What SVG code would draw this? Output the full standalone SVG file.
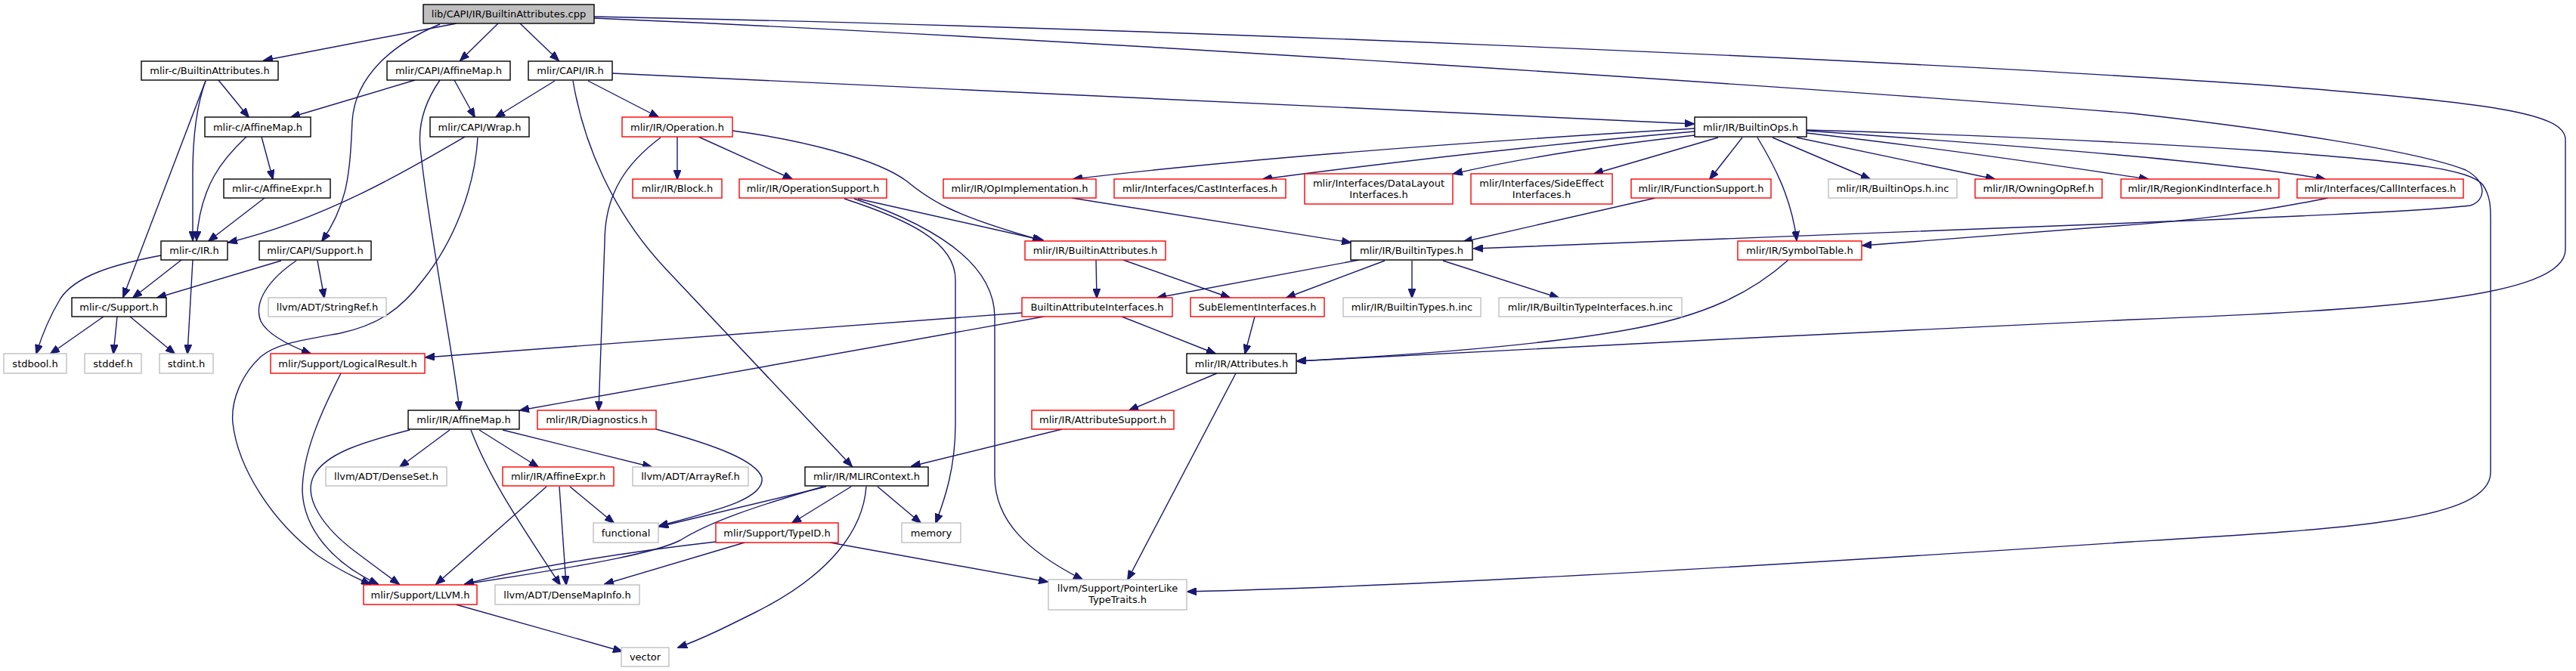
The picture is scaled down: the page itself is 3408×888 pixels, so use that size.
<svg xmlns="http://www.w3.org/2000/svg" width="3408" height="888" viewBox="0 0 3408 888">
<style>
.n rect{fill:#fff;stroke-width:1.4}
.k rect{stroke:#000}
.r rect{stroke:#ff0000}
.g rect{stroke:#bfbfbf}
.root rect{fill:#bfbfbf;stroke:#000}
text{font-family:"DejaVu Sans","Liberation Sans",sans-serif;font-size:13px;fill:#000;text-anchor:middle}
#edges path{fill:none;stroke:#191970;stroke-width:1.4;marker-end:url(#a)}
</style>
<defs>
<marker id="a" markerUnits="userSpaceOnUse" markerWidth="13" markerHeight="10" viewBox="0 0 13 10" refX="12" refY="5" orient="auto">
<path d="M0,0 L13,5 L0,10 z" fill="#191970" stroke="#191970" stroke-width="1"/>
</marker>
</defs>
<rect width="3408" height="888" fill="#fff"/>
<g id="edges">
<path d="M604,31 L349,80"/>
<path d="M582,32 C520,58 470,100 466,160 C463,230 460,270 426,319"/>
<path d="M659,31 L609,80"/>
<path d="M688,31 L739,80"/>
<path d="M786,22 C1500,36 2500,78 3000,113 C3300,136 3394,150 3394,185 L3394,330 C3394,395 3150,410 2820,423 C2500,438 2000,462 1716,478"/>
<path d="M786,24 C1400,50 2400,116 2820,150 C3000,170 3200,200 3262,225 C3290,240 3290,265 3268,272 C3200,280 3000,288 2820,295 L1950,329"/>
<path d="M2390,172 C2600,178 2820,188 3000,200 C3200,215 3270,225 3285,245 C3295,260 3295,275 3295,290 L3295,625 C3295,690 3100,700 2820,717 C2400,745 1900,775 1571,783"/>
<path d="M810,97 L2241,164"/>
<path d="M289,106 L329,155"/>
<path d="M272,107 C260,140 255,180 255,230 L255,318"/>
<path d="M272,107 L163,393"/>
<path d="M549,106 L385,155"/>
<path d="M601,106 L628,155"/>
<path d="M582,106 C562,135 553,165 556,195 C565,290 600,470 608,543"/>
<path d="M615,181 C540,225 430,290 302,321"/>
<path d="M632,182 C628,250 600,320 560,370 C530,410 500,430 450,441 C400,450 365,455 345,472 C320,495 305,530 308,560 C315,620 360,690 420,735 C445,752 468,764 490,773"/>
<path d="M392,345 C355,370 335,400 345,425 C355,445 390,460 411,468"/>
<path d="M451,494 C425,545 400,600 400,650 C402,700 440,745 500,773"/>
<path d="M542,569 C480,585 430,600 415,630 C400,660 430,700 470,730 C490,745 510,760 528,773"/>
<path d="M723,644 L577,773"/>
<path d="M758,107 C772,190 810,280 880,355 L1127,617"/>
<path d="M734,107 L656,155"/>
<path d="M778,107 L871,155"/>
<path d="M896,181 L896,237"/>
<path d="M924,181 L1048,237"/>
<path d="M874,182 C830,215 800,255 800,320 L792,543"/>
<path d="M969,173 C1060,185 1160,210 1200,240 C1230,265 1260,285 1378,318"/>
<path d="M1135,263 L1380,318"/>
<path d="M1117,263 C1200,290 1264,320 1264,370 L1264,560 C1264,620 1250,660 1238,692"/>
<path d="M1130,263 C1240,300 1316,350 1316,420 L1316,630 C1316,690 1360,730 1432,767"/>
<path d="M1405,568 L1206,617"/>
<path d="M1610,494 L1494,543"/>
<path d="M1635,494 L1492,767"/>
<path d="M1352,414 L563,473"/>
<path d="M1381,419 L688,543"/>
<path d="M1484,419 L1608,468"/>
<path d="M1660,419 L1647,468"/>
<path d="M1450,344 L1451,394"/>
<path d="M1486,344 L1627,394"/>
<path d="M1798,344 L1531,394"/>
<path d="M1832,345 L1702,394"/>
<path d="M1868,345 L1868,394"/>
<path d="M1909,345 L2062,394"/>
<path d="M2190,262 L1936,320"/>
<path d="M1418,262 L1787,321"/>
<path d="M2366,344 C2320,385 2260,418 2150,437 C2050,455 1900,468 1716,478"/>
<path d="M3080,262 C2980,282 2900,292 2800,299 L2464,325"/>
<path d="M2242,170 C1900,190 1600,215 1420,237"/>
<path d="M2242,174 C2000,195 1800,220 1671,237"/>
<path d="M2242,179 C2100,195 2000,212 1923,230"/>
<path d="M2273,182 L2109,230"/>
<path d="M2305,182 L2262,237"/>
<path d="M2325,182 C2345,215 2370,260 2377,318"/>
<path d="M2345,182 L2474,237"/>
<path d="M2377,182 L2639,237"/>
<path d="M2390,176 C2600,200 2780,228 2842,237"/>
<path d="M2390,173 C2700,195 2950,215 3076,237"/>
<path d="M1093,644 L872,697"/>
<path d="M868,568 C950,590 1000,610 1008,632 C1012,660 950,675 872,696"/>
<path d="M1089,644 C1000,670 940,690 900,715 C870,730 800,745 615,773"/>
<path d="M947,717 C850,728 700,750 615,773"/>
<path d="M985,718 L800,773"/>
<path d="M1098,718 L1386,770"/>
<path d="M1126,644 L1048,692"/>
<path d="M1161,644 L1218,692"/>
<path d="M1146,644 C1142,700 1100,760 1000,810 C960,830 930,845 897,857"/>
<path d="M603,800 L823,862"/>
<path d="M634,569 L712,618"/>
<path d="M595,569 L529,618"/>
<path d="M665,569 L862,618"/>
<path d="M623,569 C650,640 700,710 741,774"/>
<path d="M740,644 L749,774"/>
<path d="M754,644 L812,692"/>
<path d="M326,181 C295,210 265,245 260,318"/>
<path d="M346,181 L361,237"/>
<path d="M350,262 L276,319"/>
<path d="M240,344 L176,394"/>
<path d="M213,338 C150,350 100,365 80,395 C65,420 55,445 48,468"/>
<path d="M255,344 L248,468"/>
<path d="M137,419 L67,468"/>
<path d="M155,419 L150,468"/>
<path d="M172,419 L231,468"/>
<path d="M372,345 L208,394"/>
<path d="M420,345 L429,394"/>
</g>
<g id="root" class="n root"><rect x="560" y="6" width="226" height="25"/><text x="673" y="23">lib/CAPI/IR/BuiltinAttributes.cpp</text></g>
<g id="cBA" class="n k"><rect x="187" y="81" width="181" height="25"/><text x="277.5" y="98">mlir-c/BuiltinAttributes.h</text></g>
<g id="capiAM" class="n k"><rect x="512" y="81" width="163" height="25"/><text x="593.5" y="98">mlir/CAPI/AffineMap.h</text></g>
<g id="capiIR" class="n k"><rect x="699" y="81" width="111" height="25"/><text x="754.5" y="98">mlir/CAPI/IR.h</text></g>
<g id="cAM" class="n k"><rect x="271" y="155" width="140" height="26"/><text x="341" y="172.5">mlir-c/AffineMap.h</text></g>
<g id="wrap" class="n k"><rect x="569" y="155" width="131" height="26"/><text x="634.5" y="172.5">mlir/CAPI/Wrap.h</text></g>
<g id="op" class="n r"><rect x="823" y="155" width="146" height="26"/><text x="896" y="172.5">mlir/IR/Operation.h</text></g>
<g id="bops" class="n k"><rect x="2242" y="155" width="148" height="26"/><text x="2316" y="172.5">mlir/IR/BuiltinOps.h</text></g>
<g id="cAE" class="n k"><rect x="296" y="237" width="141" height="25"/><text x="366.5" y="254">mlir-c/AffineExpr.h</text></g>
<g id="block" class="n r"><rect x="837" y="237" width="118" height="25"/><text x="896" y="254">mlir/IR/Block.h</text></g>
<g id="opsup" class="n r"><rect x="978" y="237" width="195" height="25"/><text x="1075.5" y="254">mlir/IR/OperationSupport.h</text></g>
<g id="opimpl" class="n r"><rect x="1248" y="237" width="202" height="25"/><text x="1349" y="254">mlir/IR/OpImplementation.h</text></g>
<g id="cast" class="n r"><rect x="1474" y="237" width="227" height="25"/><text x="1587.5" y="254">mlir/Interfaces/CastInterfaces.h</text></g>
<g id="dl" class="n r"><rect x="1726" y="230" width="196" height="40"/><text x="1824" y="246.5">mlir/Interfaces/DataLayout</text><text x="1824" y="261.5">Interfaces.h</text></g>
<g id="se" class="n r"><rect x="1946" y="230" width="187" height="40"/><text x="2039.5" y="246.5">mlir/Interfaces/SideEffect</text><text x="2039.5" y="261.5">Interfaces.h</text></g>
<g id="fs" class="n r"><rect x="2158" y="237" width="185" height="25"/><text x="2250.5" y="254">mlir/IR/FunctionSupport.h</text></g>
<g id="bopsinc" class="n g"><rect x="2419" y="237" width="170" height="25"/><text x="2504" y="254">mlir/IR/BuiltinOps.h.inc</text></g>
<g id="owning" class="n r"><rect x="2613" y="237" width="168" height="25"/><text x="2697" y="254">mlir/IR/OwningOpRef.h</text></g>
<g id="region" class="n r"><rect x="2806" y="237" width="209" height="25"/><text x="2910.5" y="254">mlir/IR/RegionKindInterface.h</text></g>
<g id="call" class="n r"><rect x="3039" y="237" width="220" height="25"/><text x="3149" y="254">mlir/Interfaces/CallInterfaces.h</text></g>
<g id="cIR" class="n k"><rect x="213" y="319" width="88" height="25"/><text x="257" y="336">mlir-c/IR.h</text></g>
<g id="capiSup" class="n k"><rect x="343" y="319" width="148" height="25"/><text x="417" y="336">mlir/CAPI/Support.h</text></g>
<g id="irBA" class="n r"><rect x="1356" y="319" width="186" height="25"/><text x="1449" y="336">mlir/IR/BuiltinAttributes.h</text></g>
<g id="btypes" class="n k"><rect x="1787" y="319" width="161" height="25"/><text x="1867.5" y="336">mlir/IR/BuiltinTypes.h</text></g>
<g id="symtab" class="n r"><rect x="2299" y="319" width="164" height="25"/><text x="2381" y="336">mlir/IR/SymbolTable.h</text></g>
<g id="cSup" class="n k"><rect x="95" y="394" width="125" height="25"/><text x="157.5" y="411">mlir-c/Support.h</text></g>
<g id="strref" class="n g"><rect x="355" y="394" width="156" height="25"/><text x="433" y="411">llvm/ADT/StringRef.h</text></g>
<g id="bai" class="n r"><rect x="1352" y="394" width="199" height="25"/><text x="1451.5" y="411">BuiltinAttributeInterfaces.h</text></g>
<g id="sei" class="n r"><rect x="1575" y="394" width="177" height="25"/><text x="1663.5" y="411">SubElementInterfaces.h</text></g>
<g id="btinc" class="n g"><rect x="1777" y="394" width="182" height="25"/><text x="1868" y="411">mlir/IR/BuiltinTypes.h.inc</text></g>
<g id="btiinc" class="n g"><rect x="1983" y="394" width="242" height="25"/><text x="2104" y="411">mlir/IR/BuiltinTypeInterfaces.h.inc</text></g>
<g id="stdbool" class="n g"><rect x="5" y="468" width="83" height="26"/><text x="46.5" y="485.5">stdbool.h</text></g>
<g id="stddef" class="n g"><rect x="112" y="468" width="75" height="26"/><text x="149.5" y="485.5">stddef.h</text></g>
<g id="stdint" class="n g"><rect x="211" y="468" width="71" height="26"/><text x="246.5" y="485.5">stdint.h</text></g>
<g id="logres" class="n r"><rect x="358" y="468" width="204" height="26"/><text x="460" y="485.5">mlir/Support/LogicalResult.h</text></g>
<g id="attrs" class="n k"><rect x="1570" y="468" width="145" height="26"/><text x="1642.5" y="485.5">mlir/IR/Attributes.h</text></g>
<g id="irAM" class="n k"><rect x="540" y="543" width="147" height="25"/><text x="613.5" y="560">mlir/IR/AffineMap.h</text></g>
<g id="diag" class="n r"><rect x="711" y="543" width="157" height="25"/><text x="789.5" y="560">mlir/IR/Diagnostics.h</text></g>
<g id="attrsup" class="n r"><rect x="1365" y="543" width="188" height="25"/><text x="1459" y="560">mlir/IR/AttributeSupport.h</text></g>
<g id="denseset" class="n g"><rect x="431" y="618" width="160" height="25"/><text x="511" y="635">llvm/ADT/DenseSet.h</text></g>
<g id="irAE" class="n r"><rect x="665" y="618" width="147" height="25"/><text x="738.5" y="635">mlir/IR/AffineExpr.h</text></g>
<g id="arrayref" class="n g"><rect x="837" y="618" width="153" height="25"/><text x="913.5" y="635">llvm/ADT/ArrayRef.h</text></g>
<g id="ctx" class="n k"><rect x="1065" y="618" width="163" height="25"/><text x="1146.5" y="635">mlir/IR/MLIRContext.h</text></g>
<g id="functional" class="n g"><rect x="785" y="692" width="86" height="26"/><text x="828" y="709.5">functional</text></g>
<g id="typeid" class="n r"><rect x="947" y="692" width="162" height="26"/><text x="1028" y="709.5">mlir/Support/TypeID.h</text></g>
<g id="memory" class="n g"><rect x="1193" y="692" width="78" height="26"/><text x="1232" y="709.5">memory</text></g>
<g id="llvm" class="n r"><rect x="481" y="774" width="150" height="26"/><text x="556" y="791.5">mlir/Support/LLVM.h</text></g>
<g id="dmi" class="n g"><rect x="655" y="774" width="191" height="26"/><text x="750.5" y="791.5">llvm/ADT/DenseMapInfo.h</text></g>
<g id="plt" class="n g"><rect x="1387" y="767" width="183" height="40"/><text x="1478.5" y="783">llvm/Support/PointerLike</text><text x="1478.5" y="798">TypeTraits.h</text></g>
<g id="vector" class="n g"><rect x="822" y="857" width="63" height="25"/><text x="853.5" y="874">vector</text></g>
</svg>
